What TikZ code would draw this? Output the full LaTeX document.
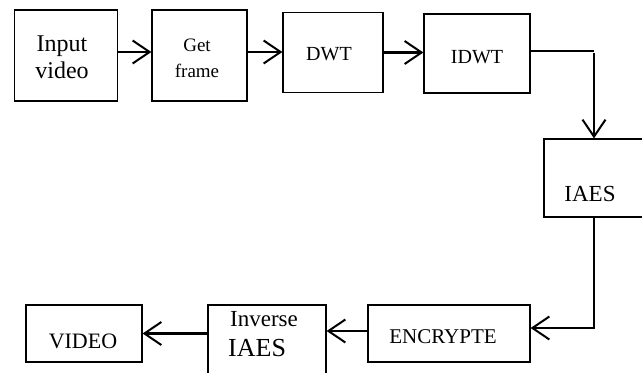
\documentclass[tikz,border=0pt]{standalone}
\usepackage{fontspec}
\setmainfont{Liberation Serif}
\usetikzlibrary{arrows.meta}

\begin{document}
\begin{tikzpicture}[x=1pt,y=-1pt,
    >={Straight Barb[length=17pt,width=23pt,line width=2pt]},
    blk/.style={draw,line width=1.2pt,inner sep=0pt},
    txt/.style={align=center,inner sep=0pt},
    arr/.style={->,line width=2.2pt}]
    \useasboundingbox (0,0) rectangle (642,372);
    \clip (0,0) rectangle (642,372);

    % Boxes
      \node[blk,minimum width=103,minimum height=91] (inp)  at (66,55.5)    {};
      \node[blk,minimum width=95, minimum height=91] (get)  at (199.5,55.5) {};
      \node[blk,minimum width=100,minimum height=80] (dwt)  at (333,52.5)   {};
      \node[blk,minimum width=106,minimum height=79] (idwt) at (477,53.5)   {};
      \node[blk,minimum width=100,minimum height=78] (iaes) at (594,178)    {};
      \node[blk,minimum width=162,minimum height=57] (enc)  at (449,333.5)  {};
      \node[blk,minimum width=118,minimum height=72] (inv)  at (267,341)    {};
      \node[blk,minimum width=116,minimum height=57] (vid)  at (84,333.5)   {};

    % Texts
      \node[txt,font=\fontsize{24}{27}\selectfont] (inptxt) at (62,57) {Input\\video};
      \node[txt,font=\fontsize{19}{26}\selectfont] (gettxt) at (197,58) {Get\\frame};
      \node[txt,font=\fontsize{20}{24}\selectfont,anchor=base] (dwttxt) at (329,60) {DWT};
      \node[txt,font=\fontsize{20}{24}\selectfont,anchor=base] (idwttxt) at (477,63) {IDWT};
      \node[txt,font=\fontsize{23}{24}\selectfont,anchor=base] (iaestxt) at (590,201) {IAES};
      \node[txt,font=\fontsize{21}{24}\selectfont,anchor=base] (enctxt) at (443,343) {ENCRYPTE};
      \node[txt,font=\fontsize{22}{24}\selectfont,anchor=base] (vidtxt) at (83,348) {VIDEO};
      \node[txt,font=\fontsize{23}{24}\selectfont,anchor=base] (invtxt) at (264,326) {Inverse};
      \node[txt,font=\fontsize{26}{24}\selectfont,anchor=base west] (invtxtb) at (228,356) {IAES};

    % Edges
      \draw[arr] ([yshift=3.5]inp.east) -- ([yshift=3.5]get.west);
      \draw[arr] ([yshift=3.5]get.east) -- ([yshift=3.5]get.east -| dwt.west);
      \draw[arr] (dwt.east) -- (dwt.east -| idwt.west);
      \draw[line width=1.4pt] ([yshift=2.5]idwt.east) -- ([yshift=2.5]idwt.east -| iaes.north) coordinate (turn);
      \draw[arr] ([yshift=-1.5]turn) -- (iaes.north);
      \draw[arr] (iaes.south) |- ([yshift=5.5]enc.east);
      \draw[arr] ([yshift=2.5]enc.west) -- ([yshift=2.5]enc.west -| inv.east);
      \draw[arr] (inv.west |- vid.east) -- (vid.east);
\end{tikzpicture}
\end{document}
